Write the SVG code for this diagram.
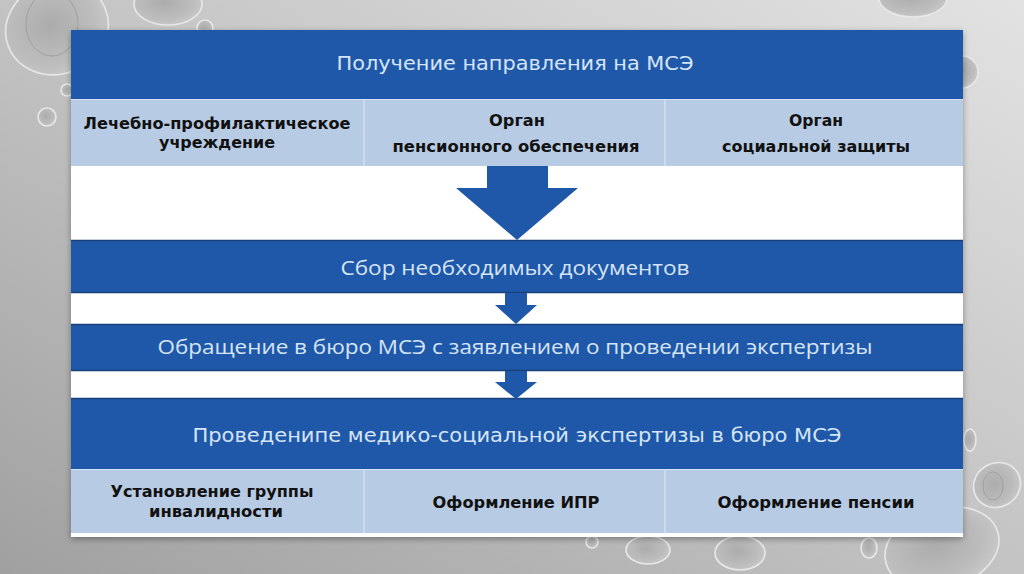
<svg xmlns="http://www.w3.org/2000/svg" width="1024" height="574" viewBox="0 0 1024 574">
<defs>
<linearGradient id="bg" x1="0" y1="1" x2="1" y2="0">
<stop offset="0" stop-color="#a0a0a0"/>
<stop offset="0.45" stop-color="#c0c0c0"/>
<stop offset="1" stop-color="#e2e2e2"/>
</linearGradient>
<radialGradient id="dropfill" cx="0.45" cy="0.45" r="0.6">
<stop offset="0" stop-color="#acacac"/>
<stop offset="0.7" stop-color="#bdbdbd"/>
<stop offset="1" stop-color="#cacaca"/>
</radialGradient>
<filter id="shadow" x="-5%" y="-5%" width="110%" height="110%">
<feDropShadow dx="0" dy="2" stdDeviation="3" flood-color="#000" flood-opacity="0.35"/>
</filter>
</defs>
<style>
.drop{fill:url(#dropfill);stroke:#e8e8e8;stroke-width:1.6}
.dropin{fill:none;stroke:#8a8a8a;stroke-width:1;opacity:0.5}
.band{fill:#1f58a8}
.bandline{stroke:#173f7a;stroke-width:1.5}
.light{fill:#b8cbe4}
.div{stroke:#cbdaee;stroke-width:2}
.arrow{fill:#1f58a8}
.ttl{font-family:"DejaVu Sans","Noto Sans",sans-serif;font-size:19px;fill:#d6e5f6;text-anchor:middle}
.ttl2{font-family:"Open Sans","Noto Sans",sans-serif;font-size:20px;fill:#d6e5f6;text-anchor:middle}
.sub{font-family:"DejaVu Sans","Noto Sans",sans-serif;font-size:15px;font-weight:bold;fill:#111111;text-anchor:middle}
</style>

<rect x="0" y="0" width="1024" height="574" fill="url(#bg)"/>

<g id="droplets">
<ellipse class="drop" cx="57" cy="28" rx="52" ry="46" transform="rotate(-20 57 28)"/>
<ellipse class="dropin" cx="52" cy="24" rx="26" ry="32"/>
<ellipse class="drop" cx="168" cy="4" rx="34" ry="21"/>
<circle class="drop" cx="67" cy="90" r="6"/>
<circle class="drop" cx="47" cy="117" r="9"/>
<circle class="drop" cx="205" cy="28" r="8"/>
<ellipse class="drop" cx="913" cy="-2" rx="34" ry="19"/>
<circle class="drop" cx="962" cy="72" r="16"/>
<ellipse class="drop" cx="970" cy="440" rx="6" ry="11"/>
<ellipse class="drop" cx="997" cy="485" rx="24" ry="22" transform="rotate(-30 997 485)"/>
<ellipse class="dropin" cx="993" cy="486" rx="10" ry="14"/>
<ellipse class="drop" cx="942" cy="548" rx="58" ry="40" transform="rotate(-15 942 548)"/>
<ellipse class="drop" cx="869" cy="548" rx="8" ry="10"/>
<ellipse class="drop" cx="648" cy="550" rx="22" ry="14"/>
<ellipse class="drop" cx="740" cy="553" rx="25" ry="17"/>
<circle class="drop" cx="592" cy="542" r="6"/>
</g>

<rect id="panel" x="71" y="30" width="892" height="507" fill="#ffffff" filter="url(#shadow)"/>

<g id="node-receive">
<rect class="band" x="71" y="30" width="892" height="69"/>
<text class="ttl" x="515" y="70" textLength="357" lengthAdjust="spacingAndGlyphs">Получение направления на МСЭ</text>
</g>

<g id="node-sources">
<rect class="light" x="71" y="99" width="892" height="67"/>
<line x1="71" y1="99.5" x2="963" y2="99.5" stroke="#d3e2f4" stroke-width="1"/>
<line class="div" x1="364" y1="100" x2="364" y2="166"/>
<line class="div" x1="665" y1="100" x2="665" y2="166"/>
</g>
<g id="node-lpu">
<text class="sub" x="217" y="129" textLength="267" lengthAdjust="spacingAndGlyphs">Лечебно-профилактическое</text>
<text class="sub" x="217" y="148" textLength="116" lengthAdjust="spacingAndGlyphs">учреждение</text>
</g>
<g id="node-pension">
<text class="sub" x="517" y="126" textLength="56" lengthAdjust="spacingAndGlyphs">Орган</text>
<text class="sub" x="516" y="152" textLength="247" lengthAdjust="spacingAndGlyphs">пенсионного обеспечения</text>
</g>
<g id="node-social">
<text class="sub" x="816" y="126" textLength="54" lengthAdjust="spacingAndGlyphs">Орган</text>
<text class="sub" x="816" y="152" textLength="188" lengthAdjust="spacingAndGlyphs">социальной защиты</text>
</g>

<g id="node-collect">
<rect class="band" x="71" y="240" width="892" height="53"/>
<line class="bandline" x1="71" y1="240.5" x2="963" y2="240.5"/>
<line class="bandline" x1="71" y1="292.5" x2="963" y2="292.5"/>
<text class="ttl2" x="515" y="275" textLength="349" lengthAdjust="spacingAndGlyphs">Сбор необходимых документов</text>
</g>

<g id="node-apply">
<rect class="band" x="71" y="324" width="892" height="47"/>
<line class="bandline" x1="71" y1="324.5" x2="963" y2="324.5"/>
<line class="bandline" x1="71" y1="370.5" x2="963" y2="370.5"/>
<text class="ttl2" x="515" y="354" textLength="715" lengthAdjust="spacingAndGlyphs">Обращение в бюро МСЭ с заявлением о проведении экспертизы</text>
</g>

<g id="node-exam">
<rect class="band" x="71" y="398" width="892" height="71"/>
<line class="bandline" x1="71" y1="398.5" x2="963" y2="398.5"/>
<text class="ttl" x="517" y="442" textLength="649" lengthAdjust="spacingAndGlyphs">Проведенипе медико-социальной экспертизы в бюро МСЭ</text>
</g>

<g id="node-results">
<rect class="light" x="71" y="469" width="892" height="64"/>
<line x1="71" y1="469.5" x2="963" y2="469.5" stroke="#d3e2f4" stroke-width="1"/>
<line class="div" x1="364" y1="470" x2="364" y2="533"/>
<line class="div" x1="665" y1="470" x2="665" y2="533"/>
</g>
<g id="node-group">
<text class="sub" x="212" y="497" textLength="203" lengthAdjust="spacingAndGlyphs">Установление группы</text>
<text class="sub" x="216" y="517" textLength="134" lengthAdjust="spacingAndGlyphs">инвалидности</text>
</g>
<g id="node-ipr">
<text class="sub" x="516" y="508" textLength="167" lengthAdjust="spacingAndGlyphs">Оформление ИПР</text>
</g>
<g id="node-pensionreg">
<text class="sub" x="816" y="508" textLength="197" lengthAdjust="spacingAndGlyphs">Оформление пенсии</text>
</g>

<g id="connectors">
<polygon class="arrow" points="487,166 548,166 548,188 578,188 517,240 456,188 487,188"/>
<polygon class="arrow" points="505,293 527,293 527,305 537,305 516,324 495,305 505,305"/>
<polygon class="arrow" points="505,371 527,371 527,382 537,382 516,399 495,382 505,382"/>
</g>
</svg>
